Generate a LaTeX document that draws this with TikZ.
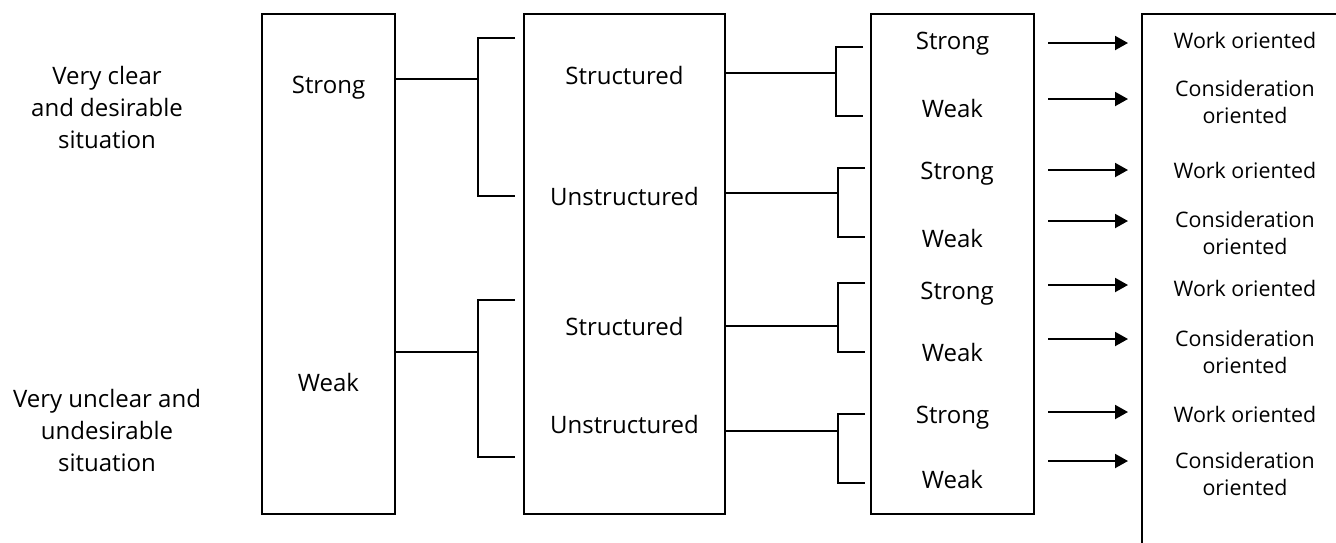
\documentclass[tikz,border=0pt]{standalone}
\usepackage{fontspec}
\setmainfont{Open Sans}
\usetikzlibrary{arrows.meta}
\begin{document}
\begin{tikzpicture}[x=1pt,y=-1pt,
  box/.style={draw, line width=2pt, outer sep=0pt, inner sep=0pt},
  lbl/.style={font=\fontsize{24}{32}\selectfont, align=center, inner sep=0pt},
  rlbl/.style={font=\fontsize{21.4}{27}\selectfont, align=center, inner sep=0pt},
  conn/.style={line width=2pt},
  arr/.style={line width=2pt, -{Triangle[length=13pt,width=14pt]}, shorten <=14pt, shorten >=14pt}]
\clip (0,0) rectangle (1336,542);
\fill[white] (0,0) rectangle (1336,542);
% boxes
\node[box, minimum width=133pt, minimum height=500pt] (b1) at (328.5,264) {};
\node[box, minimum width=201pt, minimum height=500pt] (b2) at (624.5,264) {};
\node[box, minimum width=163pt, minimum height=500pt] (b3) at (952.5,264) {};
\node[box, minimum width=300pt, minimum height=600pt] (b4) at (1292,314) {};
% left texts
\node[lbl] (t1) at (107,107) {Very clear\\and desirable\\situation};
\node[lbl] (t2) at (107,430) {Very unclear and\\undesirable\\situation};
% box1 labels
\node[lbl] (s1) at (328.5,88) {Strong};
\node[lbl] (w1) at (328.5,382) {Weak};
% box2 labels
\node[lbl] (st1) at (624.5,75) {Structured};
\node[lbl] (un1) at (624.5,196) {Unstructured};
\node[lbl] (st2) at (624.5,326) {Structured};
\node[lbl] (un2) at (624.5,424) {Unstructured};
% box3 labels
\node[lbl] (c1) at (952.5,44) {Strong};
\node[lbl] (c2) at (952.5,108) {Weak};
\node[lbl] (c3) at (957,174) {Strong};
\node[lbl] (c4) at (952.5,238) {Weak};
\node[lbl] (c5) at (957,294) {Strong};
\node[lbl] (c6) at (952.5,352) {Weak};
\node[lbl] (c7) at (952.5,418) {Strong};
\node[lbl] (c8) at (952.5,479) {Weak};
% box4 labels
\node[rlbl] (r1) at (1245,40) {Work oriented};
\node[rlbl] (r2) at (1245,102) {Consideration\\oriented};
\node[rlbl] (r3) at (1245,170) {Work oriented};
\node[rlbl] (r4) at (1245,233) {Consideration\\oriented};
\node[rlbl] (r5) at (1245,288) {Work oriented};
\node[rlbl] (r6) at (1245,352) {Consideration\\oriented};
\node[rlbl] (r7) at (1245,414) {Work oriented};
\node[rlbl] (r8) at (1245,474) {Consideration\\oriented};
% junction coordinates
\coordinate (j1) at (478,79);
\coordinate (j1a) at (515,38);
\coordinate (j1b) at (515,196);
\coordinate (j2) at (478,352);
\coordinate (j2a) at (515,300);
\coordinate (j2b) at (515,457);
\coordinate (k1) at (836,73);
\coordinate (k1a) at (863,47);
\coordinate (k1b) at (863,116);
\coordinate (k2) at (838,193);
\coordinate (k2a) at (865,168);
\coordinate (k2b) at (865,237);
\coordinate (k3) at (838,326);
\coordinate (k3a) at (865,283);
\coordinate (k3b) at (865,352);
\coordinate (k4) at (838,431);
\coordinate (k4a) at (865,414);
\coordinate (k4b) at (865,483);
% connectors box1 -> box2
\draw[conn] (b1.east |- j1) -- (j1);
\draw[conn] (j1a) -- (j1 |- j1a) -- (j1 |- j1b) -- (j1b);
\draw[conn] (b1.east |- j2) -- (j2);
\draw[conn] (j2a) -- (j2 |- j2a) -- (j2 |- j2b) -- (j2b);
% connectors box2 -> box3
\draw[conn] (b2.east |- k1) -- (k1);
\draw[conn] (k1a) -- (k1 |- k1a) -- (k1 |- k1b) -- (k1b);
\draw[conn] (b2.east |- k2) -- (k2);
\draw[conn] (k2a) -- (k2 |- k2a) -- (k2 |- k2b) -- (k2b);
\draw[conn] (b2.east |- k3) -- (k3);
\draw[conn] (k3a) -- (k3 |- k3a) -- (k3 |- k3b) -- (k3b);
\draw[conn] (b2.east |- k4) -- (k4);
\draw[conn] (k4a) -- (k4 |- k4a) -- (k4 |- k4b) -- (k4b);
% arrows box3 -> box4
\foreach \n/\yy in {1/43, 2/99, 3/170, 4/221, 5/285, 6/339, 7/412, 8/461} {
  \coordinate (a\n) at (1040,\yy);
  \draw[arr] (b3.east |- a\n) -- (b4.west |- a\n);
}
\end{tikzpicture}
\end{document}
